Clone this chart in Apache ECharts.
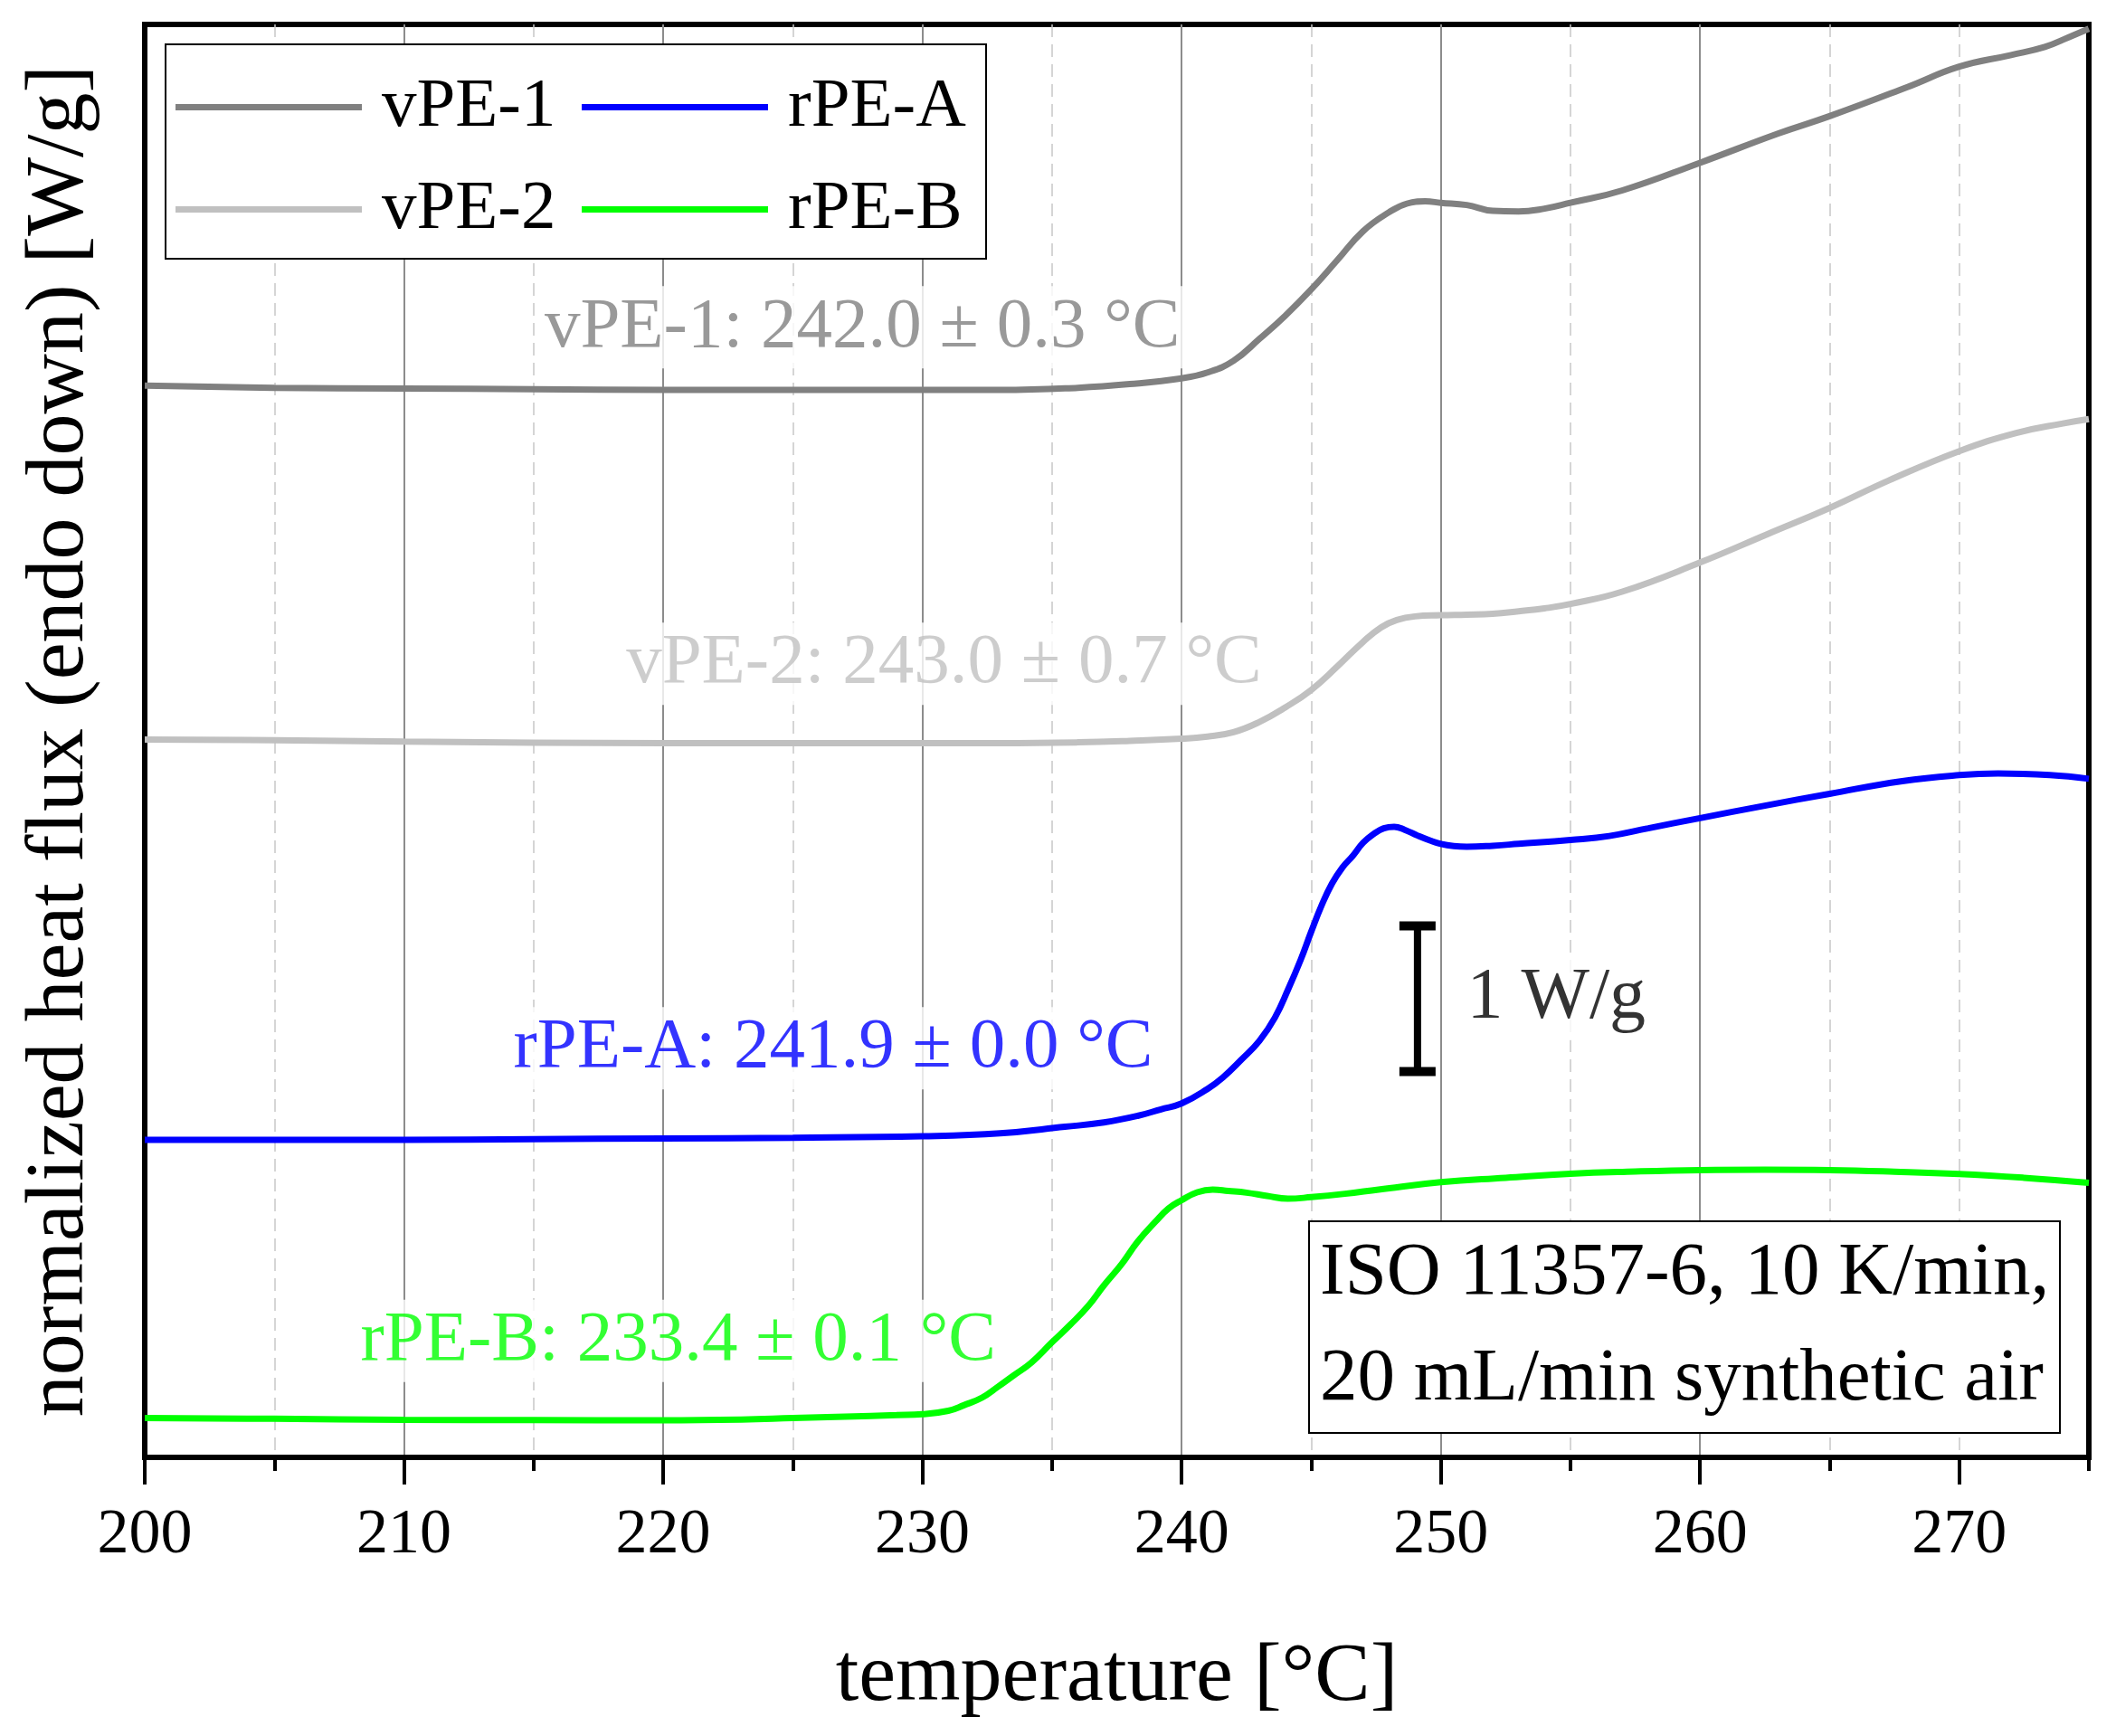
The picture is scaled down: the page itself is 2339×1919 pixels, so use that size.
<!DOCTYPE html>
<html>
<head>
<meta charset="utf-8">
<script src="https://cdn.jsdelivr.net/npm/echarts@6/dist/echarts.min.js"></script>
<style>
  html, body { margin: 0; padding: 0; background: #fff; }
  #chart { width: 2339px; height: 1919px; }
</style>
</head>
<body>
<div id="chart"></div>
<script>
// curves: [temperature °C, shifted heat flux W/g]
const vpe1 = [[200,7.36],[205,7.345],[210,7.34],[215,7.335],[220,7.33],[225,7.33],[230,7.33],[233,7.33],[236,7.345],[238,7.37],[240,7.41],[241,7.45],[242,7.53],[243,7.68],[244,7.84],[245,8.02],[246,8.22],[247,8.42],[248,8.55],[248.7,8.61],[249.4,8.625],[250,8.615],[251,8.6],[252,8.56],[253,8.555],[254,8.575],[255,8.615],[257,8.7],[260,8.89],[263,9.09],[265,9.21],[268,9.41],[270,9.55],[272,9.63],[273.3,9.685],[274.2,9.75],[275,9.81]];
const vpe2 = [[200,4.93],[205,4.925],[210,4.915],[220,4.905],[230,4.905],[233,4.905],[236,4.91],[238,4.92],[240,4.935],[241,4.95],[242,4.98],[243,5.05],[244,5.15],[245,5.27],[246,5.43],[247,5.6],[247.7,5.7],[248.3,5.75],[249,5.775],[250,5.783],[251,5.787],[252,5.793],[253,5.81],[254,5.83],[255,5.86],[257,5.945],[260,6.145],[262.6,6.34],[265,6.52],[267.3,6.71],[270,6.91],[272.2,7.035],[274,7.1],[275,7.13]];
const rpeA = [[200,2.18],[205,2.18],[210,2.18],[215,2.185],[220,2.19],[225,2.195],[230,2.205],[233,2.225],[235.5,2.27],[237,2.3],[238.3,2.345],[239.2,2.39],[240,2.43],[241,2.53],[241.6,2.61],[242.3,2.73],[243,2.86],[243.6,3.02],[244.1,3.21],[244.6,3.42],[245,3.61],[245.4,3.79],[245.8,3.94],[246.2,4.05],[246.6,4.13],[247,4.22],[247.4,4.28],[247.8,4.32],[248.2,4.33],[248.6,4.31],[249.1,4.27],[249.6,4.235],[250,4.213],[250.5,4.198],[251,4.193],[252,4.2],[253,4.213],[255,4.24],[256.5,4.267],[258,4.32],[260,4.39],[262.5,4.475],[265,4.557],[267.8,4.644],[270,4.685],[271.5,4.696],[273.5,4.685],[275,4.66]];
const rpeB = [[200,0.27],[205,0.265],[210,0.258],[215,0.256],[220,0.255],[223,0.26],[225,0.27],[227,0.28],[229,0.29],[230,0.296],[231,0.32],[231.6,0.358],[232.3,0.41],[232.9,0.483],[233.5,0.56],[234.2,0.65],[235,0.79],[235.7,0.91],[236.4,1.04],[237,1.18],[237.7,1.33],[238.3,1.48],[239,1.62],[239.5,1.71],[240,1.766],[240.6,1.82],[241.2,1.839],[241.8,1.83],[242.5,1.818],[243.3,1.795],[244.1,1.776],[245,1.787],[246.3,1.81],[247.6,1.839],[250,1.89],[252.5,1.92],[255,1.948],[257.5,1.963],[260,1.973],[262.5,1.976],[265,1.973],[267.5,1.962],[270,1.946],[272.5,1.92],[275,1.886]];

const seriesNames = ['vPE-1', 'vPE-2', 'rPE-A', 'rPE-B'];
const seriesColors = ['#808080', '#c0c0c0', '#0000ff', '#00ff00'];

// onset labels, anchored at their right edge
const onsetLabels = ['vPE-1: 242.0 ± 0.3 °C', 'vPE-2: 243.0 ± 0.7 °C', 'rPE-A: 241.9 ± 0.0 °C', 'rPE-B: 233.4 ± 0.1 °C'];
const onsetAnchorT = [240.1, 243.25, 239.05, 233.0];
const onsetAnchorV = [7.76, 5.45, 2.81, 0.8];

// 1 W/g scale bar
const scaleBar = [[249.1, 2.65], [249.1, 3.65]];
const scaleBarLabel = '1 W/g';

const xTickLabels = [200, 210, 220, 230, 240, 250, 260, 270];
const conditions = 'ISO 11357-6, 10 K/min,\n20 mL/min synthetic air';

const font = 'Liberation Serif';
const chart = echarts.init(document.getElementById('chart'));

const curveSeries = [vpe1, vpe2, rpeA, rpeB].map((d, i) => ({
  name: seriesNames[i],
  type: 'line',
  data: d,
  symbol: 'none',
  smooth: 0.45,
  z: 3,
  color: seriesColors[i],
  lineStyle: { color: seriesColors[i], width: 7 }
}));

// legend: 2 x 2 grid, one legend per entry (column-major order)
const legendLeft = [194, 194, 643, 643];
const legendTop = [80, 193, 80, 193];
const legends = seriesNames.map((n, i) => ({
  data: [n],
  left: legendLeft[i], top: legendTop[i],
  padding: 0, z: 10,
  icon: 'rect',
  itemWidth: 206, itemHeight: 7,
  textStyle: { fontFamily: font, fontSize: 77, lineHeight: 71, color: '#000', padding: [0, 0, 0, 17] }
}));

const option = {
  animation: false,
  backgroundColor: '#fff',
  textStyle: { fontFamily: font },
  grid: {
    left: 160, right: 30, top: 27, bottom: 308,
    show: true, borderColor: '#000', borderWidth: 6, backgroundColor: 'transparent'
  },
  graphic: [{
    type: 'rect', z: 9,
    shape: { x: 183, y: 49, width: 907, height: 237 },
    style: { fill: '#fff', stroke: '#000', lineWidth: 2 }
  }],
  title: {
    text: conditions,
    left: 1447, top: 1350,
    padding: [0, 12, 0, 12],
    borderColor: '#000', borderWidth: 2, backgroundColor: '#fff',
    textStyle: { fontFamily: font, fontSize: 83, lineHeight: 117, fontWeight: 'normal', color: '#000' }
  },
  legend: legends,
  xAxis: [
    {
      // minor ticks and dashed grid every 5 °C
      type: 'value', min: 200, max: 275, interval: 5, position: 'bottom',
      axisLine: { show: false },
      axisTick: { show: true, length: 15, lineStyle: { color: '#000', width: 4 } },
      axisLabel: { show: false },
      splitLine: { show: true, showMinLine: false, showMaxLine: false, lineStyle: { color: '#c8c8c8', width: 1.5, type: [14, 8] } }
    },
    {
      type: 'value', min: 200, max: 275, interval: 10, position: 'bottom',
      name: 'temperature [°C]', nameLocation: 'middle', nameGap: 198,
      nameTextStyle: { fontFamily: font, fontSize: 92, color: '#000' },
      axisLine: { show: true, lineStyle: { color: '#000', width: 6 } },
      axisTick: { show: true, length: 30, lineStyle: { color: '#000', width: 4 }, customValues: xTickLabels },
      axisLabel: {
        margin: 52, fontFamily: font, fontSize: 70, color: '#000',
        customValues: xTickLabels,
        formatter: v => (xTickLabels.indexOf(v) >= 0 ? String(v) : '')
      },
      splitLine: { show: true, showMinLine: false, showMaxLine: false, lineStyle: { color: '#8c8c8c', width: 2 } }
    }
  ],
  yAxis: {
    type: 'value', min: 0, max: 9.84,
    name: 'normalized heat flux (endo down) [W/g]', nameLocation: 'middle', nameGap: 47,
    nameTextStyle: { fontFamily: font, fontSize: 92, color: '#000' },
    axisLine: { show: true, lineStyle: { color: '#000', width: 6 } },
    axisTick: { show: false },
    axisLabel: { show: false },
    splitLine: { show: false }
  },
  series: curveSeries.concat([
    {
      name: 'scale',
      type: 'line',
      data: scaleBar,
      symbol: 'rect',
      symbolSize: [40, 10],
      showSymbol: true,
      z: 4,
      itemStyle: { color: '#000' },
      lineStyle: { color: '#000', width: 8 }
    },
    {
      name: 'labels',
      type: 'scatter',
      symbolSize: 1,
      z: 2,
      itemStyle: { color: 'rgba(0,0,0,0)' },
      data: onsetLabels.map((t, i) => ({
        value: [onsetAnchorT[i], onsetAnchorV[i]],
        label: {
          show: true, position: 'left', distance: 0,
          formatter: t, color: seriesColors[i],
          fontFamily: font, fontSize: 79,
          backgroundColor: '#fff', padding: [6, 4]
        }
      })).concat([{
        value: [scaleBar[0][0], (scaleBar[0][1] + scaleBar[1][1]) / 2],
        label: {
          show: true, position: 'right', distance: 50,
          formatter: scaleBarLabel, color: '#000',
          fontFamily: font, fontSize: 80,
          backgroundColor: '#fff', padding: [6, 4]
        }
      }])
    }
  ])
};

chart.setOption(option);
</script>
</body>
</html>
